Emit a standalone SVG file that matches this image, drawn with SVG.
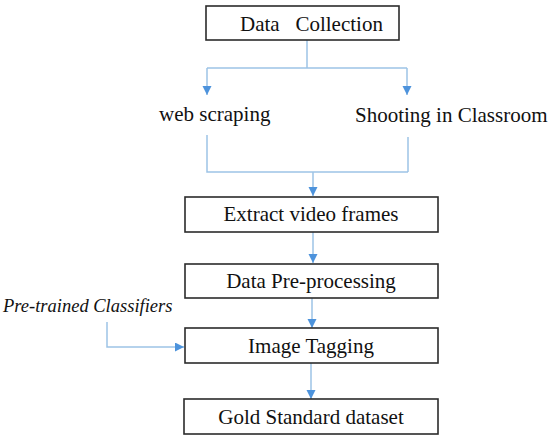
<svg xmlns="http://www.w3.org/2000/svg" width="550" height="441" viewBox="0 0 550 441">
<style>
.box{fill:#fff;stroke:#2b2b2b;stroke-width:1.6}
.t{font-family:"Liberation Serif","Times New Roman",serif;font-size:21px;fill:#111}
.c{text-anchor:middle}
.ln{fill:none;stroke:#9dc3e6;stroke-width:1.5}
</style>
<defs>
<marker id="ah" markerUnits="userSpaceOnUse" markerWidth="10" markerHeight="10" refX="9" refY="4.5" orient="auto">
<path d="M0,0 L9,4.5 L0,9 Z" fill="#4d93dc"/>
</marker>
</defs>
<rect width="550" height="441" fill="#fff"/>
<g id="connectors">
<path class="ln" d="M307,40 V68 M207,68 H407"/>
<path class="ln" d="M207,68 V95" marker-end="url(#ah)"/>
<path class="ln" d="M407,68 V95" marker-end="url(#ah)"/>
<path class="ln" d="M207,135 V172 H408 M408,137 V172"/>
<path class="ln" d="M313,172 V196" marker-end="url(#ah)"/>
<path class="ln" d="M313,232 V263" marker-end="url(#ah)"/>
<path class="ln" d="M312,298 V328" marker-end="url(#ah)"/>
<path class="ln" d="M311,363 V399" marker-end="url(#ah)"/>
<path class="ln" d="M107,322 V347 H184" marker-end="url(#ah)"/>
</g>
<g id="data-collection">
<rect class="box" x="206" y="6" width="193" height="34"/>
<text class="t" x="240" y="31" xml:space="preserve">Data   Collection</text>
</g>
<g id="web-scraping">
<text class="t" x="159" y="121">web scraping</text>
</g>
<g id="shooting">
<text class="t" x="355" y="122">Shooting in Classroom</text>
</g>
<g id="extract">
<rect class="box" x="185" y="197" width="253" height="35"/>
<text class="t c" x="311" y="221">Extract video frames</text>
</g>
<g id="preprocessing">
<rect class="box" x="185" y="264" width="253" height="34"/>
<text class="t c" x="311" y="288">Data Pre-processing</text>
</g>
<g id="pretrained">
<text class="t" x="3" y="312" style="font-style:italic;font-size:18.5px">Pre-trained Classifiers</text>
</g>
<g id="tagging">
<rect class="box" x="185" y="328" width="253" height="35"/>
<text class="t c" x="311" y="353">Image Tagging</text>
</g>
<g id="gold">
<rect class="box" x="184" y="399" width="254" height="35"/>
<text class="t c" x="311" y="424">Gold Standard dataset</text>
</g>
</svg>
